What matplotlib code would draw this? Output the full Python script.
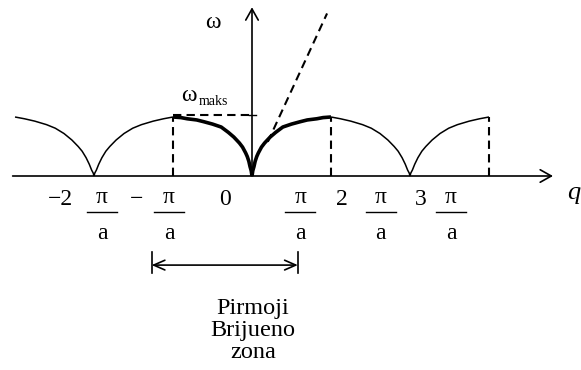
import matplotlib.pyplot as plt
import numpy as np

plt.rcParams['font.family'] = ['Liberation Serif', 'DejaVu Serif']

# half-arch profiles: distance from the nearest zero (units of pi/a) -> omega / omega_max
thin_t = [0, 0.01, 0.03, 0.06, 0.1, 0.15, 0.2, 0.28, 0.38, 0.49, 0.6, 0.75, 0.88, 1.0]
thin_h = [0, 0.05, 0.10, 0.20, 0.31, 0.42, 0.50, 0.61, 0.72, 0.81, 0.87, 0.93, 0.97, 1.0]
thick_t = [0, 0.01, 0.025, 0.04, 0.06, 0.08, 0.12, 0.16, 0.23, 0.3, 0.39, 0.5, 0.61, 0.7, 0.82, 0.9, 1.0]
thick_h = [0, 0.09, 0.16, 0.25, 0.33, 0.39, 0.49, 0.56, 0.66, 0.74, 0.83, 0.88, 0.92, 0.95, 0.97, 0.99, 1.0]

zeros = [-2, 0, 2]            # omega = 0 at q = 2n*pi/a
zone_edges = [-1, 1]          # first Brillouin zone
q_end = 3                     # curve drawn over [-3, 3] pi/a
omega_max = 1.0
sound_slope = 2.9             # dashed linear dispersion omega = v q
sound_q = [0.2, 0.95]

tick_labels = [(-2, '−2'), (-1, '−'), (0, '0'), (1, ''), (2, '2'), (3, '3')]
# x positions (pi/a units) of the integer part and the pi/a fraction of each label
label_int_x = [-2.42, -1.46, -0.34, None, 1.14, 2.13]
label_frac_x = [-1.90, -1.05, None, 0.61, 1.63, 2.52]

fig = plt.figure(figsize=(5.81, 3.70), dpi=100)
ax = fig.add_axes([0, 0, 1, 1])
ax.set_xlim(-252 / 79, 329 / 79)
ax.set_ylim(-194 / 59, 176 / 59)
ax.axis('off')

t_thin = np.array(thin_t)
h_thin = np.array(thin_h) * omega_max
t_thick = np.array(thick_t)
h_thick = np.array(thick_h) * omega_max

# thin arches outside the first zone
for sign, z in [(-1, zeros[0]), (1, zeros[0]), (-1, zeros[2]), (1, zeros[2])]:
    ax.plot(z + sign * t_thin, h_thin, color='black', lw=1.1, solid_capstyle='butt')

# first Brillouin zone drawn heavy
ax.plot(zeros[1] - t_thick, h_thick, color='black', lw=2.6, solid_capstyle='butt')
ax.plot(zeros[1] + t_thick, h_thick, color='black', lw=2.6, solid_capstyle='butt')

dash = dict(color='black', lw=1.5, dashes=(4, 2.5))
for qv in [zone_edges[0], zone_edges[1], q_end]:
    ax.plot([qv, qv], [0, omega_max], **dash)
ax.plot([zone_edges[0], 0], [omega_max * 1.03, omega_max * 1.03], **dash)
ax.plot([-0.04, 0.05], [omega_max * 1.03, omega_max * 1.03], color='black', lw=1.0)
sq = np.array(sound_q)
ax.plot(sq, sound_slope * sq, **dash)

# axes with open arrowheads
arrow = dict(arrowstyle='->,head_length=0.8,head_width=0.45', color='black', lw=1.2,
             shrinkA=0, shrinkB=0)
ax.annotate('', xy=(3.81, 0), xytext=(-3.03, 0), arrowprops=arrow)
ax.annotate('', xy=(0, 2.86), xytext=(0, 0), arrowprops=arrow)

fs = 17
ax.text(-0.49, 2.61, 'ω', fontsize=fs, ha='center', va='center')
ax.text(-0.80, 1.36, 'ω', fontsize=fs, ha='center', va='center')
ax.text(-0.67, 1.26, 'maks', fontsize=10, ha='left', va='center')
ax.text(3.99, -0.29, 'q', fontsize=fs + 2, style='italic', ha='left', va='center')

# tick labels written as  n  pi/a  with a drawn fraction bar
y_pi, y_bar, y_a = -0.36, -0.61, -0.97
for (qv, num), xi, xf in zip(tick_labels, label_int_x, label_frac_x):
    if xi is not None:
        ax.text(xi, -0.40, num, fontsize=fs, ha='center', va='center')
    if xf is not None:
        ax.text(xf, y_pi, 'π', fontsize=fs, ha='center', va='center')
        ax.text(xf, y_a, 'a', fontsize=fs, ha='center', va='center')
        ax.plot([xf - 0.19, xf + 0.19], [y_bar, y_bar], color='black', lw=1.0)

# extent of the first Brillouin zone
zone_left, zone_right, zone_y = -1.27, 0.58, -1.51
ax.annotate('', xy=(zone_right, zone_y), xytext=(zone_left, zone_y),
            arrowprops=dict(arrowstyle='<->,head_length=0.8,head_width=0.35',
                            color='black', lw=1.2, shrinkA=0, shrinkB=0))
for xv in [zone_left, zone_right]:
    ax.plot([xv, xv], [-1.29, -1.64], color='black', lw=1.2)
ax.text(0.01, -2.62, 'Pirmoji\nBrijueno\nzona', fontsize=fs + 0.5, ha='center', va='center',
        linespacing=1.08)

fig.savefig('out.png', dpi=100)
